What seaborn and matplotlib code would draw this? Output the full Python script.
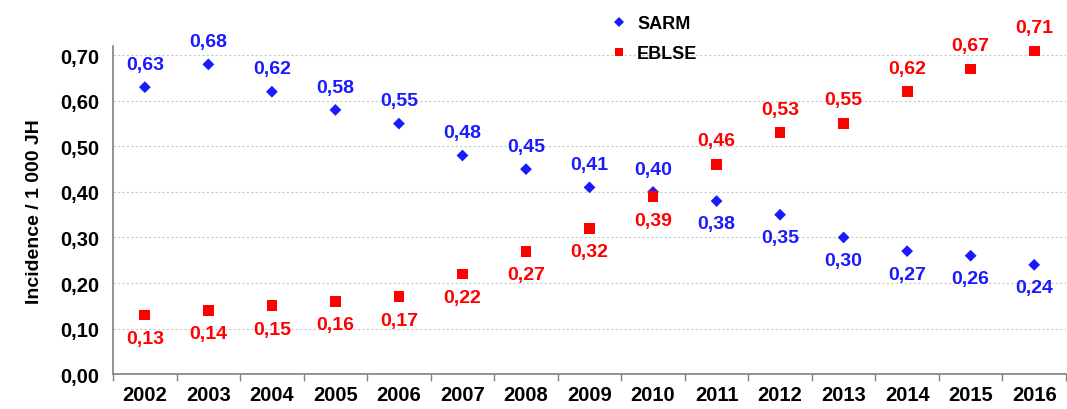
import pandas as pd
import numpy as np
import matplotlib.pyplot as plt
import seaborn as sns

years = ["2002", "2003", "2004", "2005", "2006", "2007", "2008", "2009",
         "2010", "2011", "2012", "2013", "2014", "2015", "2016"]
sarm = [0.63, 0.68, 0.62, 0.58, 0.55, 0.48, 0.45, 0.41, 0.40, 0.38, 0.35, 0.30, 0.27, 0.26, 0.24]
eblse = [0.13, 0.14, 0.15, 0.16, 0.17, 0.22, 0.27, 0.32, 0.39, 0.46, 0.53, 0.55, 0.62, 0.67, 0.71]
# label above (+1) or below (-1) the point
sarm_pos = [1, 1, 1, 1, 1, 1, 1, 1, 1, -1, -1, -1, -1, -1, -1]
eblse_pos = [-1, -1, -1, -1, -1, -1, -1, -1, -1, 1, 1, 1, 1, 1, 1]

blue = "#1a1aff"
red = "#ff0000"

df = pd.DataFrame({
    "Année": years * 2,
    "Incidence": sarm + eblse,
    "Série": ["SARM"] * len(years) + ["EBLSE"] * len(years),
})

sns.set_style("white")
plt.rcParams['font.family'] = ['Liberation Sans', 'DejaVu Sans']
plt.rcParams['text.color'] = 'black'
plt.rcParams['axes.labelcolor'] = 'black'

fig, ax = plt.subplots(figsize=(10.67, 4.10), dpi=100)
fig.subplots_adjust(left=0.106, right=0.999, top=0.885, bottom=0.085)

sns.scatterplot(data=df, x="Année", y="Incidence", hue="Série", style="Série", size="Série",
                palette={"SARM": blue, "EBLSE": red},
                markers={"SARM": "D", "EBLSE": "s"},
                sizes={"SARM": 36, "EBLSE": 60}, linewidth=0, ax=ax, zorder=3)

for i, (v, p) in enumerate(zip(sarm, sarm_pos)):
    ax.annotate(f"{v:.2f}".replace(".", ","), (i, v), xytext=(0, 16.5 * p), textcoords="offset points",
                ha="center", va="center", color=blue, fontsize=14, fontweight="bold")
for i, (v, p) in enumerate(zip(eblse, eblse_pos)):
    ax.annotate(f"{v:.2f}".replace(".", ","), (i, v), xytext=(0, 17 * p), textcoords="offset points",
                ha="center", va="center", color=red, fontsize=14, fontweight="bold")

ax.set_xlim(-0.5, len(years) - 0.5)
ax.set_ylim(0, 0.72)
ax.set_yticks(np.arange(0, 0.71, 0.1))
ax.set_yticklabels([f"{t:.2f}".replace(".", ",") for t in np.arange(0, 0.71, 0.1)])
ax.set_xticks(range(len(years)))
ax.set_xticklabels(years)
ax.set_xticks(np.arange(-0.5, len(years), 1), minor=True)
ax.tick_params(axis="x", which="major", length=0, labelsize=14.5, pad=8, labelcolor="black")
ax.tick_params(axis="x", which="minor", length=5, width=1, color="#808080", direction="out", bottom=True)
ax.tick_params(axis="y", length=5, width=1, color="#808080", direction="out", labelsize=14.5,
               labelcolor="black", pad=5)
for lab in ax.get_xticklabels() + ax.get_yticklabels():
    lab.set_fontweight("bold")

ax.yaxis.grid(True, linestyle=(0, (2, 2)), color="#c8c8c8", linewidth=0.8)
ax.set_axisbelow(True)
for side in ["top", "right"]:
    ax.spines[side].set_visible(False)
for side in ["left", "bottom"]:
    ax.spines[side].set_color("#808080")
    ax.spines[side].set_linewidth(1.2)

ax.set_xlabel("")
ax.set_ylabel("Incidence / 1 000 JH", fontsize=14, fontweight="bold", labelpad=12)

leg = ax.legend(loc="upper left", bbox_to_anchor=(0.495, 1.145), frameon=False,
                fontsize=13, handletextpad=0.0, labelspacing=0.75, markerscale=0.8)
for t in leg.get_texts():
    t.set_fontweight("bold")
    t.set_color("black")

fig.savefig("out.png", dpi=100)
